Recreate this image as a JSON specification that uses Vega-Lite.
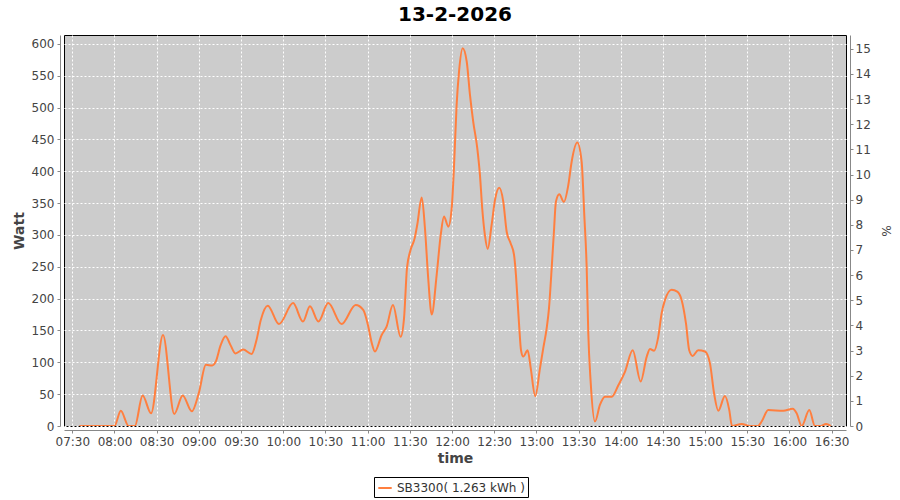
{
  "$schema": "https://vega.github.io/schema/vega-lite/v6.json",
  "width": 782,
  "height": 391,
  "autosize": "none",
  "padding": {"left": 64, "top": 35, "right": 54, "bottom": 74},
  "background": "#ffffff",
  "title": {"text": "13-2-2026", "font": "DejaVu Sans", "fontSize": 20, "fontWeight": "bold", "color": "#000000", "anchor": "middle", "offset": 10},
  "config": {
    "view": {"fill": "#cccccc", "stroke": "#000000", "strokeWidth": 1},
    "font": "DejaVu Sans",
    "axis": {"labelFont": "DejaVu Sans", "labelFontSize": 12, "labelColor": "#444444", "titleFont": "DejaVu Sans", "titleColor": "#444444", "domainColor": "#888888", "tickColor": "#888888", "tickSize": 3, "gridColor": "#ffffff", "gridDash": [2, 2], "gridOpacity": 1, "gridWidth": 1}
  },
  "layer": [
    {
      "data": {"values": [
        {"t": "2026-02-13T07:35:00", "w": 0},
        {"t": "2026-02-13T07:40:00", "w": 0},
        {"t": "2026-02-13T07:45:00", "w": 0},
        {"t": "2026-02-13T07:50:00", "w": 0},
        {"t": "2026-02-13T07:55:00", "w": 0},
        {"t": "2026-02-13T08:00:00", "w": 0},
        {"t": "2026-02-13T08:04:30", "w": 24},
        {"t": "2026-02-13T08:10:00", "w": 0},
        {"t": "2026-02-13T08:14:30", "w": 0},
        {"t": "2026-02-13T08:20:00", "w": 48},
        {"t": "2026-02-13T08:26:00", "w": 20},
        {"t": "2026-02-13T08:34:30", "w": 143},
        {"t": "2026-02-13T08:42:30", "w": 19},
        {"t": "2026-02-13T08:48:30", "w": 48},
        {"t": "2026-02-13T08:55:00", "w": 23},
        {"t": "2026-02-13T09:00:00", "w": 52},
        {"t": "2026-02-13T09:05:00", "w": 96},
        {"t": "2026-02-13T09:09:30", "w": 95},
        {"t": "2026-02-13T09:12:00", "w": 101},
        {"t": "2026-02-13T09:15:30", "w": 127},
        {"t": "2026-02-13T09:19:00", "w": 141},
        {"t": "2026-02-13T09:22:30", "w": 127},
        {"t": "2026-02-13T09:26:00", "w": 114},
        {"t": "2026-02-13T09:31:30", "w": 120},
        {"t": "2026-02-13T09:37:30", "w": 113},
        {"t": "2026-02-13T09:41:00", "w": 135},
        {"t": "2026-02-13T09:44:00", "w": 166},
        {"t": "2026-02-13T09:49:00", "w": 189},
        {"t": "2026-02-13T09:57:00", "w": 160},
        {"t": "2026-02-13T10:07:00", "w": 193},
        {"t": "2026-02-13T10:14:00", "w": 164},
        {"t": "2026-02-13T10:19:00", "w": 188},
        {"t": "2026-02-13T10:25:00", "w": 164},
        {"t": "2026-02-13T10:32:00", "w": 193},
        {"t": "2026-02-13T10:41:30", "w": 160},
        {"t": "2026-02-13T10:51:30", "w": 190},
        {"t": "2026-02-13T10:57:00", "w": 182},
        {"t": "2026-02-13T11:00:30", "w": 156},
        {"t": "2026-02-13T11:03:00", "w": 130},
        {"t": "2026-02-13T11:05:12", "w": 117},
        {"t": "2026-02-13T11:10:00", "w": 143},
        {"t": "2026-02-13T11:13:30", "w": 156},
        {"t": "2026-02-13T11:18:00", "w": 190},
        {"t": "2026-02-13T11:23:30", "w": 140},
        {"t": "2026-02-13T11:25:54", "w": 169},
        {"t": "2026-02-13T11:28:00", "w": 248},
        {"t": "2026-02-13T11:30:30", "w": 276},
        {"t": "2026-02-13T11:33:30", "w": 295},
        {"t": "2026-02-13T11:35:18", "w": 316},
        {"t": "2026-02-13T11:38:30", "w": 359},
        {"t": "2026-02-13T11:40:48", "w": 310},
        {"t": "2026-02-13T11:43:06", "w": 232},
        {"t": "2026-02-13T11:45:36", "w": 175},
        {"t": "2026-02-13T11:49:06", "w": 237},
        {"t": "2026-02-13T11:52:00", "w": 300},
        {"t": "2026-02-13T11:54:18", "w": 329},
        {"t": "2026-02-13T11:57:24", "w": 313},
        {"t": "2026-02-13T11:59:48", "w": 342},
        {"t": "2026-02-13T12:01:24", "w": 405},
        {"t": "2026-02-13T12:03:18", "w": 504},
        {"t": "2026-02-13T12:05:00", "w": 556},
        {"t": "2026-02-13T12:07:36", "w": 593},
        {"t": "2026-02-13T12:10:30", "w": 572},
        {"t": "2026-02-13T12:12:48", "w": 520},
        {"t": "2026-02-13T12:15:06", "w": 478},
        {"t": "2026-02-13T12:18:00", "w": 436},
        {"t": "2026-02-13T12:19:54", "w": 394},
        {"t": "2026-02-13T12:21:30", "w": 342},
        {"t": "2026-02-13T12:23:24", "w": 300},
        {"t": "2026-02-13T12:25:24", "w": 278},
        {"t": "2026-02-13T12:28:12", "w": 316},
        {"t": "2026-02-13T12:30:36", "w": 355},
        {"t": "2026-02-13T12:33:36", "w": 374},
        {"t": "2026-02-13T12:36:30", "w": 352},
        {"t": "2026-02-13T12:38:54", "w": 305},
        {"t": "2026-02-13T12:41:42", "w": 287},
        {"t": "2026-02-13T12:44:06", "w": 269},
        {"t": "2026-02-13T12:45:30", "w": 237},
        {"t": "2026-02-13T12:46:42", "w": 195},
        {"t": "2026-02-13T12:47:54", "w": 153},
        {"t": "2026-02-13T12:49:06", "w": 119},
        {"t": "2026-02-13T12:50:42", "w": 109},
        {"t": "2026-02-13T12:53:48", "w": 119},
        {"t": "2026-02-13T12:56:00", "w": 91},
        {"t": "2026-02-13T12:59:12", "w": 47},
        {"t": "2026-02-13T13:02:36", "w": 91},
        {"t": "2026-02-13T13:04:54", "w": 122},
        {"t": "2026-02-13T13:07:18", "w": 153},
        {"t": "2026-02-13T13:09:00", "w": 185},
        {"t": "2026-02-13T13:10:54", "w": 248},
        {"t": "2026-02-13T13:12:30", "w": 305},
        {"t": "2026-02-13T13:13:54", "w": 352},
        {"t": "2026-02-13T13:16:18", "w": 364},
        {"t": "2026-02-13T13:19:36", "w": 352},
        {"t": "2026-02-13T13:22:42", "w": 378},
        {"t": "2026-02-13T13:25:06", "w": 415},
        {"t": "2026-02-13T13:29:06", "w": 445},
        {"t": "2026-02-13T13:32:12", "w": 415},
        {"t": "2026-02-13T13:34:06", "w": 331},
        {"t": "2026-02-13T13:35:48", "w": 248},
        {"t": "2026-02-13T13:36:54", "w": 148},
        {"t": "2026-02-13T13:38:36", "w": 70},
        {"t": "2026-02-13T13:41:42", "w": 7},
        {"t": "2026-02-13T13:45:12", "w": 33},
        {"t": "2026-02-13T13:48:48", "w": 46},
        {"t": "2026-02-13T13:53:36", "w": 46},
        {"t": "2026-02-13T13:58:18", "w": 64},
        {"t": "2026-02-13T14:03:00", "w": 85},
        {"t": "2026-02-13T14:08:30", "w": 119},
        {"t": "2026-02-13T14:14:12", "w": 70},
        {"t": "2026-02-13T14:18:30", "w": 109},
        {"t": "2026-02-13T14:20:48", "w": 121},
        {"t": "2026-02-13T14:23:42", "w": 118},
        {"t": "2026-02-13T14:26:42", "w": 140},
        {"t": "2026-02-13T14:29:06", "w": 177},
        {"t": "2026-02-13T14:31:30", "w": 198},
        {"t": "2026-02-13T14:36:12", "w": 214},
        {"t": "2026-02-13T14:40:12", "w": 211},
        {"t": "2026-02-13T14:43:18", "w": 198},
        {"t": "2026-02-13T14:46:24", "w": 161},
        {"t": "2026-02-13T14:48:42", "w": 119},
        {"t": "2026-02-13T14:51:12", "w": 110},
        {"t": "2026-02-13T14:55:06", "w": 119},
        {"t": "2026-02-13T14:59:54", "w": 117},
        {"t": "2026-02-13T15:03:30", "w": 98},
        {"t": "2026-02-13T15:06:24", "w": 51},
        {"t": "2026-02-13T15:09:24", "w": 24},
        {"t": "2026-02-13T15:14:06", "w": 47},
        {"t": "2026-02-13T15:17:12", "w": 25},
        {"t": "2026-02-13T15:19:06", "w": 0},
        {"t": "2026-02-13T15:26:00", "w": 3},
        {"t": "2026-02-13T15:31:54", "w": 0},
        {"t": "2026-02-13T15:37:36", "w": 0},
        {"t": "2026-02-13T15:40:12", "w": 7},
        {"t": "2026-02-13T15:44:54", "w": 25},
        {"t": "2026-02-13T15:55:36", "w": 24},
        {"t": "2026-02-13T16:02:18", "w": 27},
        {"t": "2026-02-13T16:05:06", "w": 20},
        {"t": "2026-02-13T16:08:42", "w": 0},
        {"t": "2026-02-13T16:14:06", "w": 25},
        {"t": "2026-02-13T16:18:06", "w": 0},
        {"t": "2026-02-13T16:21:42", "w": 0},
        {"t": "2026-02-13T16:26:00", "w": 3},
        {"t": "2026-02-13T16:29:30", "w": 0}
      ]},
      "mark": {"type": "line", "interpolate": "monotone", "strokeWidth": 2, "clip": true},
      "encoding": {
        "x": {
          "field": "t", "type": "temporal",
          "scale": {"domain": [
            {"year": 2026, "month": 2, "date": 13, "hours": 7, "minutes": 24, "seconds": 6},
            {"year": 2026, "month": 2, "date": 13, "hours": 16, "minutes": 40, "seconds": 12}
          ]},
          "axis": {"title": "time", "titleFontSize": 14, "titleFontWeight": "bold", "format": "%H:%M", "offset": 4, "labelPadding": 3, "titlePadding": 4, "grid": true, "labelFlush": false, "labelOverlap": false,
            "values": [
              {"year": 2026, "month": 2, "date": 13, "hours": 7, "minutes": 30},
              {"year": 2026, "month": 2, "date": 13, "hours": 8, "minutes": 0},
              {"year": 2026, "month": 2, "date": 13, "hours": 8, "minutes": 30},
              {"year": 2026, "month": 2, "date": 13, "hours": 9, "minutes": 0},
              {"year": 2026, "month": 2, "date": 13, "hours": 9, "minutes": 30},
              {"year": 2026, "month": 2, "date": 13, "hours": 10, "minutes": 0},
              {"year": 2026, "month": 2, "date": 13, "hours": 10, "minutes": 30},
              {"year": 2026, "month": 2, "date": 13, "hours": 11, "minutes": 0},
              {"year": 2026, "month": 2, "date": 13, "hours": 11, "minutes": 30},
              {"year": 2026, "month": 2, "date": 13, "hours": 12, "minutes": 0},
              {"year": 2026, "month": 2, "date": 13, "hours": 12, "minutes": 30},
              {"year": 2026, "month": 2, "date": 13, "hours": 13, "minutes": 0},
              {"year": 2026, "month": 2, "date": 13, "hours": 13, "minutes": 30},
              {"year": 2026, "month": 2, "date": 13, "hours": 14, "minutes": 0},
              {"year": 2026, "month": 2, "date": 13, "hours": 14, "minutes": 30},
              {"year": 2026, "month": 2, "date": 13, "hours": 15, "minutes": 0},
              {"year": 2026, "month": 2, "date": 13, "hours": 15, "minutes": 30},
              {"year": 2026, "month": 2, "date": 13, "hours": 16, "minutes": 0},
              {"year": 2026, "month": 2, "date": 13, "hours": 16, "minutes": 30}
            ]}
        },
        "y": {
          "field": "w", "type": "quantitative",
          "scale": {"domain": [0, 614], "nice": false, "zero": true},
          "axis": {"title": "Watt", "titleFontSize": 14, "titleFontWeight": "bold", "values": [0, 50, 100, 150, 200, 250, 300, 350, 400, 450, 500, 550, 600], "offset": 4, "labelPadding": 3, "titlePadding": 5, "grid": true}
        },
        "color": {
          "datum": "SB3300( 1.263 kWh )",
          "type": "nominal",
          "scale": {"range": ["#ff7f3f"]},
          "legend": {"title": null, "orient": "none", "legendX": 310, "legendY": 442, "symbolType": "stroke", "symbolSize": 180, "symbolStrokeWidth": 2, "labelFont": "DejaVu Sans", "labelFontSize": 12, "labelColor": "#333333", "strokeColor": "#000000", "fillColor": "#ffffff", "padding": 3, "cornerRadius": 0}
        }
      }
    },
    {
      "data": {"values": [{"p": 0}, {"p": 15}]},
      "mark": {"type": "point", "opacity": 0},
      "encoding": {
        "y": {
          "field": "p", "type": "quantitative",
          "scale": {"domain": [0, 15.55], "nice": false},
          "axis": {"orient": "right", "title": "%", "titleFontSize": 12, "titleFontWeight": "normal", "values": [0, 1, 2, 3, 4, 5, 6, 7, 8, 9, 10, 11, 12, 13, 14, 15], "offset": 4, "labelPadding": 2, "titlePadding": 8, "grid": false}
        }
      }
    }
  ],
  "resolve": {"scale": {"y": "independent"}}
}
